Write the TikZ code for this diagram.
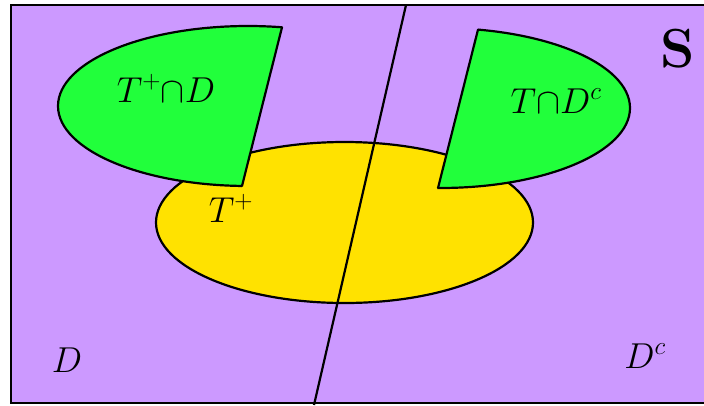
\RequirePackage{fix-cm}
\documentclass[tikz,border=0pt]{standalone}
\definecolor{purp}{RGB}{204,153,255}
\definecolor{grn}{RGB}{33,255,59}
\definecolor{yel}{RGB}{255,226,0}
\tikzset{
  outline/.style={draw=black,line width=2.2pt},
  lbl/.style={inner sep=0pt,anchor=base,font=\fontsize{36}{40}\selectfont},
}
\begin{document}
\begin{tikzpicture}[x=1pt,y=-1pt]
\useasboundingbox (0,0) rectangle (704,405);
\clip (0,0) rectangle (704,405);
% sample space
\fill[purp] (11,5) rectangle (730,403);
% T+ ellipse
\filldraw[outline,fill=yel] (344.5,222.5) ellipse [x radius=188.5,y radius=80.5];
% divider
\coordinate (dtop) at (406,5);
\coordinate (dbot) at (314,405);
\draw[outline] (dtop) -- (dbot);
% left green region
\coordinate (lc1) at (282,27.3);
\coordinate (lc2) at (242,186);
\begin{scope}
  \clip (-10,-100) -- (314,-100) -- (213.3,300) -- (-10,300) -- cycle;
  \filldraw[outline,fill=grn] (248,106) ellipse [x radius=190,y radius=80];
\end{scope}
\draw[outline,line cap=round] (lc1) -- (lc2);
% right green region
\coordinate (rc1) at (478,29.6);
\coordinate (rc2) at (438,188);
\begin{scope}
  \clip (510.5,-100) -- (800,-100) -- (800,300) -- (409.8,300) -- cycle;
  \filldraw[outline,fill=grn] (440,108) ellipse [x radius=190,y radius=80];
\end{scope}
\draw[outline,line cap=round] (rc1) -- (rc2);
% border
\draw[outline] (11,5) rectangle (730,403);
% labels
\node[lbl] (tpd) at (166,102) {$T^+{\cap}D$};
\node[lbl] (tdc) at (556,113) {$T{\cap}D^c$};
\node[lbl] (tp) at (231,222) {$T^+$};
\node[lbl] (d) at (67,372) {$D$};
\node[lbl] (dc) at (645,368) {$D^c$};
\node[inner sep=0pt,anchor=base,font=\fontsize{55}{60}\selectfont\bfseries] (s) at (678,67) {S};
\end{tikzpicture}
\end{document}
